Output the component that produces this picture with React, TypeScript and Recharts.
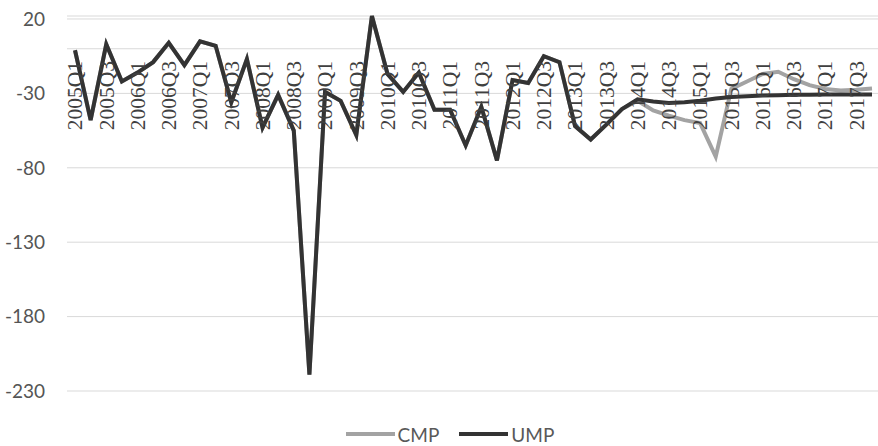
import { LineChart, Line, XAxis, YAxis, CartesianGrid, ReferenceLine, Legend } from 'recharts';

const quarters = [
  '2005Q1', '2005Q2', '2005Q3', '2005Q4',
  '2006Q1', '2006Q2', '2006Q3', '2006Q4',
  '2007Q1', '2007Q2', '2007Q3', '2007Q4',
  '2008Q1', '2008Q2', '2008Q3', '2008Q4',
  '2009Q1', '2009Q2', '2009Q3', '2009Q4',
  '2010Q1', '2010Q2', '2010Q3', '2010Q4',
  '2011Q1', '2011Q2', '2011Q3', '2011Q4',
  '2012Q1', '2012Q2', '2012Q3', '2012Q4',
  '2013Q1', '2013Q2', '2013Q3', '2013Q4',
  '2014Q1', '2014Q2', '2014Q3', '2014Q4',
  '2015Q1', '2015Q2', '2015Q3', '2015Q4',
  '2016Q1', '2016Q2', '2016Q3', '2016Q4',
  '2017Q1', '2017Q2', '2017Q3', '2017Q4',
];

const umpValues = [
  -1, -48, 3, -22, -16, -9, 4, -11,
  5, 2, -36, -7, -53, -31, -55, -219,
  -29, -35, -58, 22, -17, -29, -16, -41,
  -41, -65, -39, -75, -21, -23, -5, -9,
  -52, -61, -51, -40.5, -34, -35.5, -36.5, -36,
  -35, -33.5, -32.5, -32, -31.5, -31.3, -31, -31,
  -30.7, -30.7, -30.7, -30.7,
];

const cmpValues = [
  -1, -48, 3, -22, -16, -9, 4, -11,
  5, 2, -36, -7, -53, -31, -55, -219,
  -29, -35, -58, 22, -17, -29, -16, -41,
  -41, -65, -39, -75, -21, -23, -5, -9,
  -52, -61, -51, -40.5, -35, -41.5, -45, -48,
  -50, -72.5, -27, -22, -17, -15.5, -20.5, -24.5,
  -27, -28, -27.5, -26.7,
];

const yTicks = [20, -30, -80, -130, -180, -230];

const data = quarters.map((q, i) => ({ quarter: q, CMP: cmpValues[i], UMP: umpValues[i] }));

const W = 878;
const H = 446;
const TOP = 16;
const PLOT_H = 375;
const Y_MAX = 20;
const Y_MIN = -230;

// labels sit just under the zero line, like Excel's "next to axis"
const zeroY = TOP + (PLOT_H * Y_MAX) / (Y_MAX - Y_MIN);

const QuarterTick = (props: any) => {
  const { x, payload } = props;
  const y = zeroY + 15;
  return (
    <text
      x={x}
      y={y}
      dy='0.34em'
      textAnchor='end'
      transform={`rotate(-90, ${x}, ${y})`}
      fontFamily='"Liberation Serif", serif'
      fontSize={21.5}
      fill='#404040'
    >
      {payload.value}
    </text>
  );
};

const LegendContent = (props: any) => {
  const { payload } = props;
  return (
    <div
      style={{
        display: 'flex',
        justifyContent: 'center',
        alignItems: 'center',
        gap: 20,
        fontFamily: 'Lato, sans-serif',
        fontSize: 19,
        color: '#595959',
        height: 24,
      }}
    >
      {payload.map((entry: any) => (
        <div key={entry.value} style={{ display: 'flex', alignItems: 'center' }}>
          <svg width={49} height={6} style={{ marginRight: 3 }}>
            <line x1={0} y1={3} x2={49} y2={3} stroke={entry.color} strokeWidth={4} />
          </svg>
          <span>{entry.value}</span>
        </div>
      ))}
    </div>
  );
};

export default function App() {
  return (
    <div style={{ position: 'absolute', left: 0, top: 0, width: W, height: H, background: '#fff', overflow: 'hidden' }}>
      <LineChart width={W} height={H} data={data} margin={{ top: TOP, right: -2, bottom: 25, left: 0 }}>
        <CartesianGrid horizontal vertical={false} stroke='#d9d9d9' strokeWidth={1} />
        <ReferenceLine y={0} stroke='#d9d9d9' strokeWidth={1} />
        <XAxis
          dataKey='quarter'
          interval={1}
          axisLine={false}
          tickLine={false}
          height={30}
          padding={{ left: 8, right: 8 }}
          tick={<QuarterTick />}
        />
        <YAxis
          domain={[Y_MIN, Y_MAX]}
          ticks={yTicks}
          width={67}
          axisLine={false}
          tickLine={false}
          tickSize={0}
          tickMargin={22}
          tick={{ fontFamily: 'Lato, sans-serif', fontSize: 19, fill: '#555' }}
        />
        <Legend
          verticalAlign='middle'
          align='center'
          layout='horizontal'
          content={<LegendContent />}
          wrapperStyle={{ top: 422, left: 22, width: 856 }}
        />
        <Line
          type='linear'
          dataKey='CMP'
          stroke='#a3a3a3'
          strokeWidth={4}
          dot={false}
          isAnimationActive={false}
        />
        <Line
          type='linear'
          dataKey='UMP'
          stroke='#333333'
          strokeWidth={4}
          dot={false}
          isAnimationActive={false}
        />
      </LineChart>
    </div>
  );
}
